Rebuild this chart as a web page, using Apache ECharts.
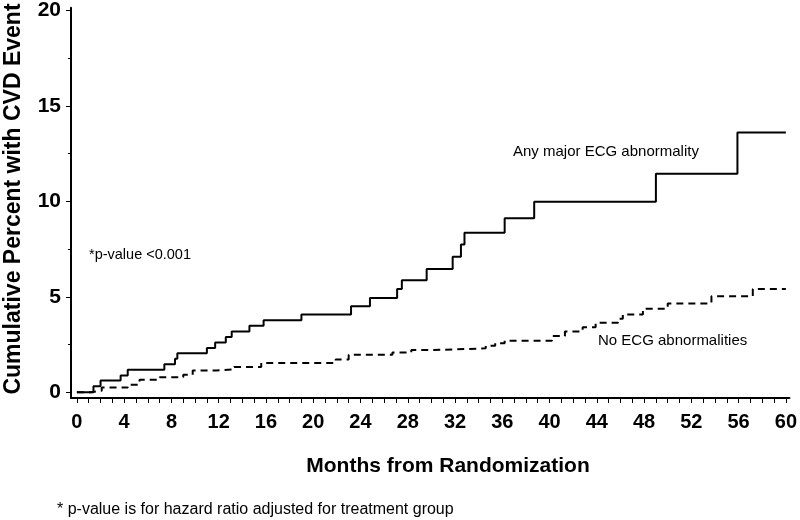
<!DOCTYPE html>
<html>
<head>
<meta charset="utf-8">
<script src="https://cdn.jsdelivr.net/npm/echarts@6/dist/echarts.min.js"></script>
<style>
html,body{margin:0;padding:0;background:#fff;}
#chart{width:800px;height:520px;}
</style>
</head>
<body>
<div id="chart"></div>
<script>
// Any major ECG abnormality (solid)
const majorMonths = [0, 1.4, 2.0, 3.7, 4.3, 7.4, 8.3, 8.5, 11.0, 11.7, 12.6, 13.1, 14.6, 15.8, 19.0, 23.2, 24.8, 27.1, 27.5, 29.6, 31.8, 32.5, 32.8, 36.2, 38.7, 49.0, 55.9, 60];
const majorPct    = [0, 0.31, 0.62, 0.88, 1.18, 1.47, 1.75, 2.04, 2.32, 2.61, 2.9, 3.18, 3.49, 3.77, 4.08, 4.51, 4.94, 5.41, 5.87, 6.46, 7.1, 7.74, 8.36, 9.12, 9.98, 11.45, 13.61, 13.61];
// No ECG abnormalities (dashed)
const noneMonths = [0, 1.2, 2.1, 4.3, 5.3, 7.0, 9.0, 9.8, 11.8, 13.3, 15.6, 21.9, 23.0, 26.7, 28.3, 30.2, 34.6, 35.4, 36.2, 40.2, 41.3, 42.8, 43.9, 45.8, 46.2, 47.9, 50.0, 53.7, 57.2, 60];
const nonePct    = [0, 0.08, 0.25, 0.4, 0.66, 0.79, 0.92, 1.14, 1.2, 1.33, 1.53, 1.72, 1.97, 2.09, 2.21, 2.3, 2.44, 2.57, 2.7, 2.95, 3.18, 3.41, 3.64, 3.85, 4.08, 4.37, 4.65, 5.03, 5.41, 5.41];
// Axis ticks
const xLabels = [0, 4, 8, 12, 16, 20, 24, 28, 32, 36, 40, 44, 48, 52, 56, 60];
const xTicks = Array.from({length: 61}, (_, i) => i);
const yLabels = [0, 5, 10, 15, 20];
const yMinorTicks = [2.5, 7.5, 12.5, 17.5];

const chart = echarts.init(document.getElementById('chart'), null, {renderer: 'canvas'});
const font = 'Liberation Sans, Arial, Helvetica, sans-serif';
const option = {
  animation: false,
  backgroundColor: '#ffffff',
  grid: {left: 71, right: 7, top: 3, bottom: 122, containLabel: false},
  xAxis: {
    type: 'value', min: -0.5, max: 60.3,
    axisLine: {show: true, onZero: false, lineStyle: {color: '#000', width: 2}},
    axisTick: {show: true, length: 5, customValues: xTicks, lineStyle: {color: '#000', width: 1}},
    axisLabel: {customValues: xLabels, margin: 14, color: '#000', fontFamily: font, fontWeight: 'bold', fontSize: 20},
    splitLine: {show: false}
  },
  yAxis: [{
    type: 'value', min: -0.3, max: 20.15,
    axisLine: {show: true, onZero: false, lineStyle: {color: '#000', width: 2}},
    axisTick: {show: true, length: 5, customValues: yLabels, lineStyle: {color: '#000', width: 1}},
    axisLabel: {customValues: yLabels, margin: 10, color: '#000', fontFamily: font, fontWeight: 'bold', fontSize: 21},
    splitLine: {show: false}
  }, {
    type: 'value', min: -0.3, max: 20.15, position: 'left', offset: 0,
    axisLine: {show: false, onZero: false},
    axisTick: {show: true, length: 3, customValues: yMinorTicks, lineStyle: {color: '#000', width: 1}},
    axisLabel: {show: false},
    splitLine: {show: false}
  }],
  series: [{
    type: 'line', step: 'end', showSymbol: false, yAxisIndex: 0,
    data: majorMonths.map((m, i) => [m, majorPct[i]]),
    lineStyle: {color: '#000', width: 2}
  }, {
    type: 'line', step: 'end', showSymbol: false, yAxisIndex: 0,
    data: noneMonths.map((m, i) => [m, nonePct[i]]),
    lineStyle: {color: '#000', width: 2, type: [7, 5]}
  }],
  graphic: [
    {type: 'text', x: 14, y: 199, rotation: Math.PI / 2,
      style: {text: 'Cumulative Percent with CVD Event', fill: '#000', font: 'bold 23px ' + font, align: 'center', verticalAlign: 'middle'}},
    {type: 'text', x: 448, y: 466,
      style: {text: 'Months from Randomization', fill: '#000', font: 'bold 21px ' + font, align: 'center', verticalAlign: 'middle'}},
    {type: 'text', x: 57, y: 510,
      style: {text: '* p-value is for hazard ratio adjusted for treatment group', fill: '#000', font: '16px ' + font, align: 'left', verticalAlign: 'middle'}},
    {type: 'text', x: 89, y: 255,
      style: {text: '*p-value <0.001', fill: '#000', font: '14.5px ' + font, align: 'left', verticalAlign: 'middle'}},
    {type: 'text', x: 513, y: 152,
      style: {text: 'Any major ECG abnormality', fill: '#000', font: '15px ' + font, align: 'left', verticalAlign: 'middle'}},
    {type: 'text', x: 598, y: 341,
      style: {text: 'No ECG abnormalities', fill: '#000', font: '15px ' + font, align: 'left', verticalAlign: 'middle'}}
  ]
};
chart.setOption(option);
</script>
</body>
</html>
